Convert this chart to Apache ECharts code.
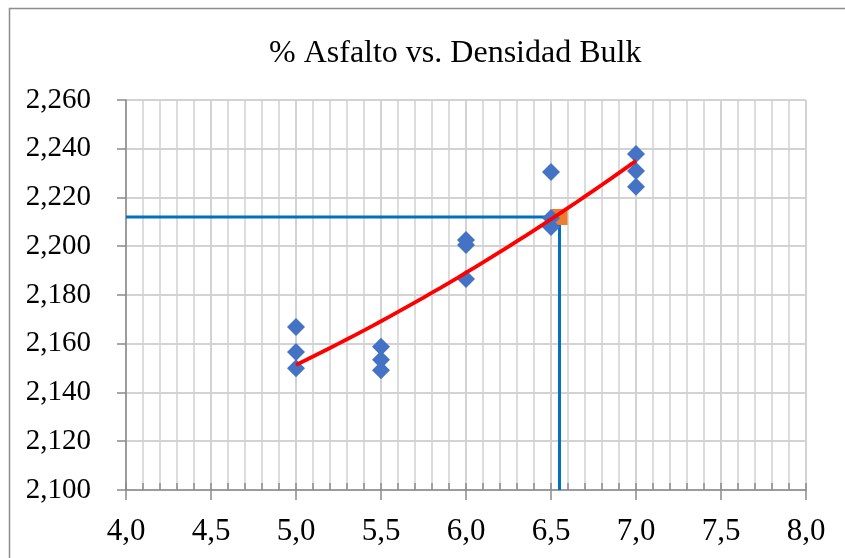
<!DOCTYPE html>
<html>
<head>
<meta charset="utf-8">
<script src="https://cdn.jsdelivr.net/npm/echarts@6/dist/echarts.min.js"></script>
<style>
  html, body { margin: 0; padding: 0; background: #fff; }
  #chart { width: 845px; height: 558px; }
</style>
</head>
<body>
<div id="chart"></div>
<script>
// Asphalt content (%) of each specimen group
const asphaltPct = [5.0, 5.5, 6.0, 6.5, 7.0];
// Bulk density of the three specimens in each group
const bulkDensity = [
  [2.1669, 2.1566, 2.1500],
  [2.1588, 2.1534, 2.1491],
  [2.2026, 2.2005, 2.1866],
  [2.2305, 2.2116, 2.2079],
  [2.2378, 2.2309, 2.2244]
];
// Design point: optimum asphalt content and its density
const designPct = 6.55;
const designDensity = 2.212;

const xTicks = { min: 4.0, max: 8.0, step: 0.5, minorStep: 0.1 };
const yTicks = { min: 2.10, max: 2.26, step: 0.02 };

// Specimen points
const points = [];
asphaltPct.forEach((x, i) => bulkDensity[i].forEach(y => points.push([x, y])));

// Second-order least-squares trend through all specimens
function quadFit(pts) {
  let s = [0, 0, 0, 0, 0], t = [0, 0, 0];
  pts.forEach(([x, y]) => {
    for (let k = 0; k < 5; k++) s[k] += Math.pow(x, k);
    for (let k = 0; k < 3; k++) t[k] += y * Math.pow(x, k);
  });
  const A = [[s[0], s[1], s[2], t[0]], [s[1], s[2], s[3], t[1]], [s[2], s[3], s[4], t[2]]];
  for (let c = 0; c < 3; c++) {
    for (let r = c + 1; r < 3; r++) {
      const f = A[r][c] / A[c][c];
      for (let k = c; k < 4; k++) A[r][k] -= f * A[c][k];
    }
  }
  const b = [0, 0, 0];
  for (let r = 2; r >= 0; r--) {
    let v = A[r][3];
    for (let k = r + 1; k < 3; k++) v -= A[r][k] * b[k];
    b[r] = v / A[r][r];
  }
  return x => b[0] + b[1] * x + b[2] * x * x;
}
const trend = quadFit(points);
const xFirst = asphaltPct[0], xLast = asphaltPct[asphaltPct.length - 1];
const trendPts = [];
for (let i = 0; i <= 40; i++) {
  const x = xFirst + (xLast - xFirst) * i / 40;
  trendPts.push([x, trend(x)]);
}

const guide = [[xTicks.min, designDensity], [designPct, designDensity], [designPct, yTicks.min]];

const serif = '"Liberation Serif", "Times New Roman", serif';
const gridColor = '#d0d0d0';
const axisColor = '#8a8a8a';

const chart = echarts.init(document.getElementById('chart'), null, { renderer: 'canvas' });
chart.setOption({
  animation: false,
  backgroundColor: '#fff',
  title: {
    text: '% Asfalto vs. Densidad Bulk',
    left: 264, top: 33,
    textStyle: { fontFamily: serif, fontSize: 32, fontWeight: 'normal', color: '#000' }
  },
  graphic: [{
    type: 'rect', silent: true, z: -1,
    shape: { x: 9.5, y: 8.5, width: 900, height: 600 },
    style: { fill: 'none', stroke: '#8c8c8c', lineWidth: 1.5 }
  }],
  grid: { left: 126, right: 39, top: 100, bottom: 68 },
  xAxis: [{
    type: 'value', min: xTicks.min, max: xTicks.max, interval: xTicks.step,
    axisLine: { show: true, lineStyle: { color: axisColor, width: 1.5 } },
    axisTick: { show: true, length: 10, lineStyle: { color: axisColor, width: 1.5 } },
    axisLabel: {
      margin: 26, fontFamily: serif, fontSize: 31, color: '#000',
      formatter: v => v.toFixed(1).replace('.', ',')
    },
    splitLine: { show: true, lineStyle: { color: gridColor, width: 1.5 } }
  }, {
    type: 'value', min: xTicks.min, max: xTicks.max, interval: xTicks.minorStep,
    position: 'bottom',
    axisLine: { show: false },
    axisTick: { show: true, inside: true, length: 7, lineStyle: { color: axisColor, width: 1.5 } },
    axisLabel: { show: false },
    splitLine: { show: true, lineStyle: { color: gridColor, width: 1.5 } }
  }],
  yAxis: {
    type: 'value', min: yTicks.min, max: yTicks.max, interval: yTicks.step,
    axisLine: { show: true, lineStyle: { color: axisColor, width: 1.5 } },
    axisTick: { show: true, length: 9, lineStyle: { color: axisColor, width: 1.5 } },
    axisLabel: {
      margin: 35, fontFamily: serif, fontSize: 29, color: '#000',
      formatter: v => v.toFixed(3).replace('.', ',')
    },
    splitLine: { show: true, lineStyle: { color: '#c4c4c4', width: 1.5 } }
  },
  series: [{
    type: 'line', data: guide, xAxisIndex: 0, z: 2,
    symbol: 'none', lineStyle: { color: '#0070C0', width: 3 }
  }, {
    type: 'scatter', data: [[designPct, designDensity]], xAxisIndex: 0, z: 3,
    symbol: 'rect', symbolSize: 16, itemStyle: { color: '#ED7D31', opacity: 1 }
  }, {
    type: 'scatter', data: points, xAxisIndex: 0, z: 4,
    symbol: 'diamond', symbolSize: [18, 18], itemStyle: { color: '#4472C4', opacity: 1 }
  }, {
    type: 'line', data: trendPts, xAxisIndex: 0, z: 5,
    symbol: 'none', smooth: false, lineStyle: { color: '#FF0000', width: 3.8 }
  }]
});
</script>
</body>
</html>
